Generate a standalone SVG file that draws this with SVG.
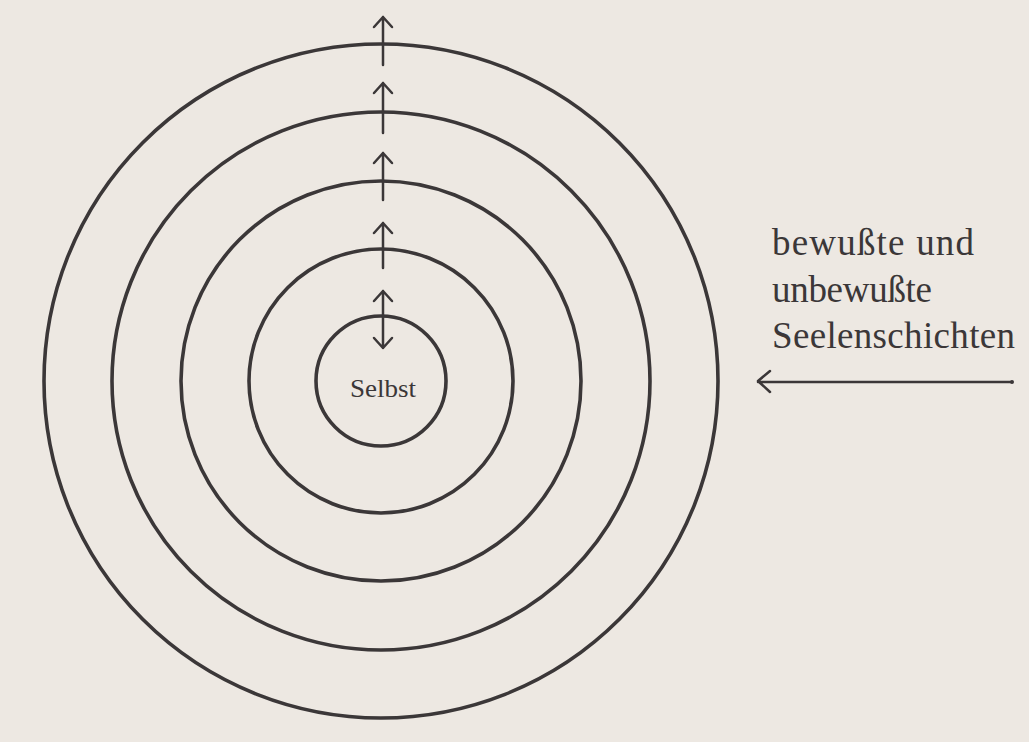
<svg xmlns="http://www.w3.org/2000/svg" width="1029" height="742" viewBox="0 0 1029 742">
<defs>
<style>
.ring{fill:none;stroke:#3b3738;stroke-width:3.6}
.ln{fill:none;stroke:#3b3738;stroke-width:2.5;stroke-linecap:round;stroke-linejoin:round}
.lbl{font-family:"Liberation Serif","Times New Roman",serif;fill:#3b3738}
</style>
</defs>
<rect width="1029" height="742" fill="#ede8e2"/>
<g id="ring5"><circle class="ring" cx="381" cy="381" r="337"/></g>
<g id="ring4"><circle class="ring" cx="381" cy="381" r="269"/></g>
<g id="ring3"><circle class="ring" cx="381" cy="381" r="200"/></g>
<g id="ring2"><circle class="ring" cx="381" cy="381" r="132"/></g>
<g id="selbst"><circle class="ring" cx="381" cy="381" r="65"/>
<text class="lbl" x="383" y="397" font-size="26" text-anchor="middle" textLength="66" lengthAdjust="spacingAndGlyphs">Selbst</text></g>
<g id="label"><text class="lbl" font-size="37"><tspan x="772" y="255" textLength="202" lengthAdjust="spacing">bewußte und</tspan><tspan x="772" y="302" textLength="160" lengthAdjust="spacing">unbewußte</tspan><tspan x="772" y="348" textLength="243" lengthAdjust="spacing">Seelenschichten</tspan></text></g>
<g id="connectors">
<path class="ln" d="M383 65V17M374 27L383 17L392 27"/>
<path class="ln" d="M383 133V83M374 93L383 83L392 93"/>
<path class="ln" d="M383 200V153M374 163L383 153L392 163"/>
<path class="ln" d="M383 268V223M374 233L383 223L392 233"/>
<path class="ln" d="M383 348V291M374 301L383 291L392 301M374 338L383 348L392 338"/>
<path class="ln" d="M1012 382H758M770 371L758 381L770 392"/>
<circle cx="1012" cy="382" r="2" fill="#3b3738"/>
</g>
</svg>
